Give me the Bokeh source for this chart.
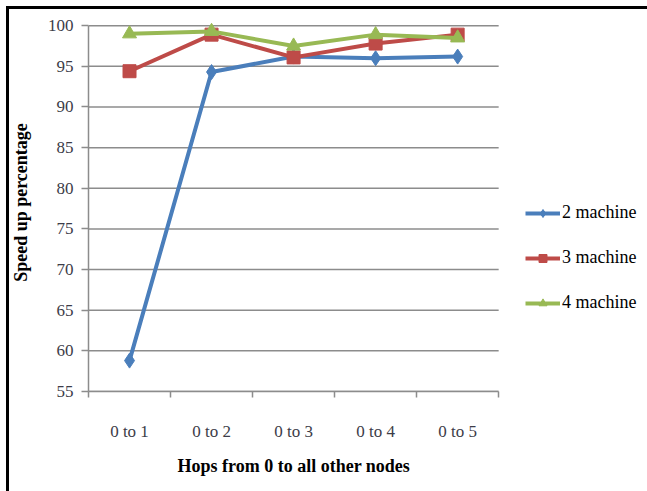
from bokeh.plotting import figure
from bokeh.models import FixedTicker, Legend, LegendItem, Range1d, Title
from bokeh.embed import file_html
from bokeh.resources import INLINE

# Hop ranges measured and the speed-up achieved per cluster size
hops = ["0 to 1", "0 to 2", "0 to 3", "0 to 4", "0 to 5"]
speedup_2 = [58.8, 94.3, 96.2, 96.0, 96.2]
speedup_3 = [94.4, 98.9, 96.1, 97.8, 98.9]
speedup_4 = [99.0, 99.3, 97.5, 98.9, 98.5]
y_ticks = [55, 60, 65, 70, 75, 80, 85, 90, 95, 100]

FONT = "Liberation Serif"
GRID = "#8c8c8c"
TICK_TXT = "#3c3c48"

n = len(hops)
# each category sits in the middle of its own unit-wide slot
xpos = [i + 0.5 for i in range(n)]

# the frame runs on past the last slot so the legend has room at the right
p = figure(width=647, height=491, output_backend="svg", toolbar_location=None,
           x_range=Range1d(0, 6.79), y_range=Range1d(55, 101.5),
           min_border_left=88, min_border_right=2, min_border_top=13,
           min_border_bottom=100)
p.background_fill_color = "white"
p.border_fill_alpha = 0
p.outline_line_color = None
# black rule along the left and top edges of the page
p.styles = {"box-shadow": "inset 6px 6px 0 0 white, inset 9px 9px 0 0 black",
            "background-color": "white"}

# axes
p.xaxis.ticker = FixedTicker(ticks=xpos, minor_ticks=list(range(n + 1)))
p.xaxis.bounds = (0, n)
p.xaxis.major_label_overrides = {x: h for x, h in zip(xpos, hops)}
p.xaxis.major_tick_out = 0
p.xaxis.major_tick_in = 0
p.xaxis.minor_tick_out = 6
p.xaxis.minor_tick_in = 0
p.xaxis.minor_tick_line_color = GRID
p.xaxis.major_label_standoff = 24

p.yaxis.ticker = FixedTicker(ticks=y_ticks)
p.yaxis.bounds = (55, 100)
p.yaxis.major_tick_out = 7
p.yaxis.major_tick_in = 0
p.yaxis.minor_tick_line_color = None
p.yaxis.major_label_standoff = 8
p.yaxis.axis_label = "Speed up percentage"
p.yaxis.axis_label_standoff = 14

for ax in (p.xaxis, p.yaxis):
    ax.axis_line_color = GRID
    ax.axis_line_width = 1.5
    ax.major_tick_line_color = GRID
    ax.major_tick_line_width = 1.5
    ax.minor_tick_line_width = 1.5
    ax.major_label_text_font = FONT
    ax.major_label_text_font_size = "17px"
    ax.major_label_text_color = TICK_TXT
    ax.axis_label_text_font = FONT
    ax.axis_label_text_font_size = "18px"
    ax.axis_label_text_font_style = "bold"
    ax.axis_label_text_color = "black"

# x-axis caption, centred under the five category slots
p.add_layout(Title(text="Hops from 0 to all other nodes", align="left", offset=89,
                   text_font=FONT, text_font_size="18px", text_font_style="bold",
                   text_color="black", standoff=21), "below")

# horizontal gridlines limited to the category slots
p.xgrid.grid_line_color = None
p.ygrid.grid_line_color = None
p.segment(x0=[0] * len(y_ticks), x1=[n] * len(y_ticks), y0=y_ticks, y1=y_ticks,
          line_color=GRID, line_width=1.5, level="underlay")

series = [
    ("2 machine", speedup_2, "#4a7ebb", "diamond", 15),
    ("3 machine", speedup_3, "#be4b48", "square", 13),
    ("4 machine", speedup_4, "#98b954", "triangle", 14),
]

items = []
for label, vals, color, marker, size in series:
    ln = p.line(xpos, vals, line_color=color, line_width=4, line_join="round")
    sc = p.scatter(xpos, vals, marker=marker, size=size,
                   fill_color=color, line_color=color)
    items.append(LegendItem(label=label, renderers=[ln, sc]))

legend = Legend(items=items, location=(437, 78))
legend.background_fill_alpha = 0
legend.border_line_color = None
legend.padding = 0
legend.margin = 0
legend.glyph_width = 35
legend.glyph_height = 20
legend.label_height = 20
legend.label_standoff = 2
legend.spacing = 24
legend.label_text_font = FONT
legend.label_text_font_size = "18px"
legend.label_text_color = "black"
p.add_layout(legend, "center")

open("out.html", "w").write(file_html(p, INLINE))
